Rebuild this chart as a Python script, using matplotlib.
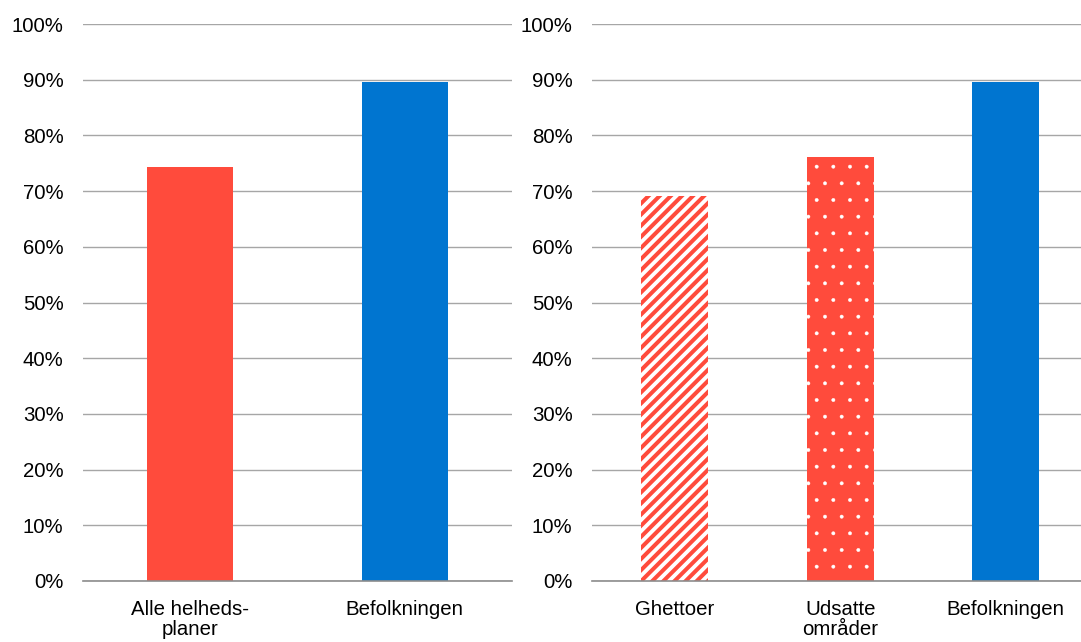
import matplotlib
matplotlib.use("Agg")
import matplotlib as mpl
import matplotlib.pyplot as plt
from matplotlib.ticker import FuncFormatter

plt.rcParams['font.family'] = ['Liberation Sans', 'DejaVu Sans']

left_categories = ["Alle helheds-\nplaner", "Befolkningen"]
left_values = [74.3, 89.5]

right_categories = ["Ghettoer", "Udsatte\nområder", "Befolkningen"]
right_values = [69.2, 76.1, 89.5]

yticks = list(range(0, 101, 10))

RED = "#FF4B3C"
BLUE = "#0075D0"
GRID = "#A6A6A6"
BASE = "#8C8C8C"
FS = 14.7

fig = plt.figure(figsize=(10.81, 6.42), dpi=100)
ax1 = fig.add_axes([83/1081, 1-581/642, 429/1081, 557/642])
ax2 = fig.add_axes([592/1081, 1-581/642, 489/1081, 557/642])

def style(ax):
    ax.set_ylim(0, 100)
    ax.set_yticks(yticks)
    ax.yaxis.set_major_formatter(FuncFormatter(lambda v, p: f"{int(v)}%"))
    ax.grid(axis='y', color=GRID, linewidth=1.0)
    ax.set_axisbelow(True)
    for s in ['top', 'right', 'left']:
        ax.spines[s].set_visible(False)
    ax.spines['bottom'].set_color(BASE)
    ax.spines['bottom'].set_linewidth(1.2)
    ax.tick_params(axis='y', length=0, pad=14, labelsize=FS, labelcolor='#000000')
    ax.tick_params(axis='x', length=0, pad=14, labelsize=FS, labelcolor='#000000')

def hatched_bar(ax, x, h, hatch, lw, **kw):
    with mpl.rc_context({'hatch.linewidth': lw}):
        bars = ax.bar(x, h, hatch=hatch, linewidth=0, zorder=2, **kw)
    for b in bars:
        if hasattr(b, 'set_hatch_linewidth'):
            b.set_hatch_linewidth(lw)
    return bars

# Left panel
xl = list(range(len(left_categories)))
ax1.bar(xl, left_values, width=0.4, color=[RED, BLUE], zorder=2)
ax1.set_xticks(xl)
ax1.set_xticklabels(left_categories, linespacing=1.05)
ax1.set_xlim(-0.5, 1.5)
style(ax1)

# Right panel
xr = list(range(len(right_categories)))
hatched_bar(ax2, xr[0], right_values[0], '///', 2.9, width=0.405,
            facecolor='white', edgecolor=RED)
hatched_bar(ax2, xr[1], right_values[1], '.', 0.3, width=0.405,
            facecolor=RED, edgecolor='white')
ax2.bar(xr[2], right_values[2], width=0.405, color=BLUE, zorder=2)
ax2.set_xticks(xr)
ax2.set_xticklabels(right_categories, linespacing=1.05)
ax2.set_xlim(-0.5, 2.455)
style(ax2)

fig.savefig("out.png", dpi=100)
